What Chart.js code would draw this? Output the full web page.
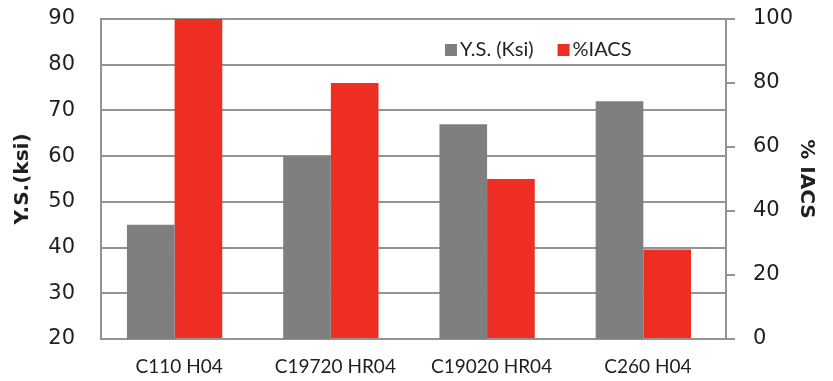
<!DOCTYPE html>
<html>
<head>
<meta charset="utf-8">
<script src="https://cdn.jsdelivr.net/npm/chart.js@4.4.1/dist/chart.umd.min.js"></script>
<style>
  html, body { margin: 0; padding: 0; background: #fff; }
  #wrap { width: 833px; height: 381px; }
</style>
</head>
<body>
<div id="wrap"><canvas id="chart" width="833" height="381"></canvas></div>
<script>
// Alloy grades and their properties
const categories = ['C110 H04', 'C19720 HR04', 'C19020 HR04', 'C260 H04'];
const yieldStrength = [45, 60, 67, 72];      // ksi, left axis
const conductivity = [100, 80, 50, 28];      // %IACS, right axis
const seriesNames = ['Y.S. (Ksi)', '%IACS'];
const leftTicks = [20, 30, 40, 50, 60, 70, 80, 90];
const rightTicks = [0, 20, 40, 60, 80, 100];

const GRID = '#939393';
const TEXT = '#1f1f1f';
const GRAY = '#7f7f7f';
const RED = '#ee2e22';

// bar groups sit slightly left of the category centre
const groupShift = 0.029;

// fixed axis box sizes; vertical padding is handled by the layout
function fixVertical(width) {
  return s => {
    s.width = width;
    s.paddingTop = 0;
    s.paddingBottom = 0;
  };
}

// legend drawn inside the plot, next to the top gridline
const insideLegend = {
  id: 'insideLegend',
  afterDraw(chart, args, opts) {
    const { ctx, chartArea } = chart;
    ctx.save();
    ctx.font = opts.font;
    ctx.textBaseline = 'middle';
    let x = chartArea.left + opts.dx;
    const y = chartArea.top + opts.dy;
    chart.data.datasets.forEach(ds => {
      ctx.fillStyle = ds.backgroundColor;
      ctx.fillRect(x, y - 6, 12, 12);
      x += 15;
      ctx.fillStyle = TEXT;
      ctx.fillText(ds.label, x, y);
      x += ctx.measureText(ds.label).width + 24;
    });
    ctx.restore();
  }
};

new Chart(document.getElementById('chart'), {
  type: 'bar',
  data: {
    labels: categories,
    datasets: [
      {
        label: seriesNames[0],
        data: categories.map((c, i) => ({ x: i, y: yieldStrength[i] })),
        backgroundColor: GRAY,
        yAxisID: 'ys'
      },
      {
        label: seriesNames[1],
        data: categories.map((c, i) => ({ x: i, y: conductivity[i] })),
        backgroundColor: RED,
        yAxisID: 'iacs'
      }
    ]
  },
  options: {
    responsive: false,
    animation: false,
    layout: { padding: { top: 19, left: 0, right: 0, bottom: 0 } },
    datasets: { bar: { categoryPercentage: 0.61, barPercentage: 1.0 } },
    plugins: {
      legend: { display: false },
      tooltip: { enabled: false },
      insideLegend: { dx: 344, dy: 31, font: '20px Lato' }
    },
    scales: {
      x: {
        type: 'linear',
        offset: false,
        min: -0.5 + groupShift,
        max: categories.length - 0.5 + groupShift,
        afterBuildTicks: s => { s.ticks = categories.map((c, i) => ({ value: i })); },
        afterFit: s => { s.height = 42; },
        grid: { display: false, drawTicks: false },
        border: { display: false },
        ticks: {
          autoSkip: false,
          maxRotation: 0,
          labelOffset: 4.5,
          padding: 16,
          color: TEXT,
          font: { family: 'Lato', size: 19 },
          callback: v => categories[v]
        }
      },
      ys: {
        position: 'left',
        min: leftTicks[0],
        max: leftTicks[leftTicks.length - 1],
        afterBuildTicks: s => { s.ticks = leftTicks.map(v => ({ value: v })); },
        afterFit: fixVertical(101),
        grid: { color: GRID, lineWidth: 2, drawTicks: false },
        border: { color: GRID, width: 2 },
        ticks: { padding: 26, color: TEXT, font: { family: 'DejaVu Sans', size: 21 } },
        title: {
          display: true,
          text: 'Y.S.(ksi)',
          color: TEXT,
          font: { family: 'DejaVu Sans', size: 20, weight: 'bold' },
          padding: { top: 11, bottom: 0 }
        }
      },
      iacs: {
        position: 'right',
        min: rightTicks[0],
        max: rightTicks[rightTicks.length - 1],
        afterBuildTicks: s => { s.ticks = rightTicks.map(v => ({ value: v })); },
        afterFit: fixVertical(107),
        grid: { drawOnChartArea: false, drawTicks: true, tickLength: 9, color: GRID, lineWidth: 2 },
        border: { color: GRID, width: 2 },
        ticks: { padding: 18, color: TEXT, font: { family: 'DejaVu Sans', size: 21 } },
        title: {
          display: true,
          text: '% IACS',
          color: TEXT,
          font: { family: 'DejaVu Sans', size: 20, weight: 'bold' },
          padding: { top: 15, bottom: 0 }
        }
      }
    }
  },
  plugins: [insideLegend]
});
</script>
</body>
</html>
